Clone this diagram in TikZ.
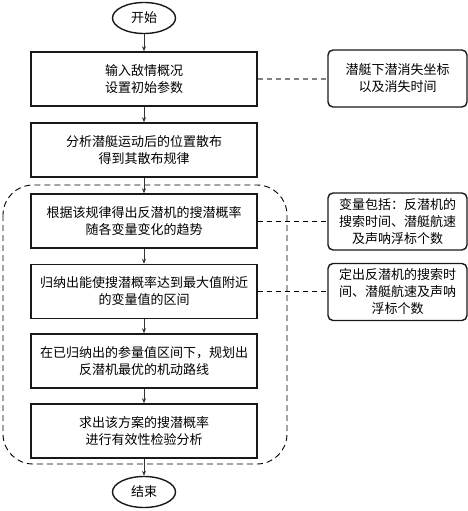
\documentclass[tikz,border=0pt]{standalone}
\usepackage{fontspec}
\setmainfont{Noto Sans CJK SC}
\usetikzlibrary{arrows.meta,shapes.geometric}
\tikzset{
  stepbox/.style={draw=black!90, line width=1.5pt, minimum width=226pt, minimum height=54pt, align=center, inner sep=0pt, font=\fontsize{13pt}{17pt}\selectfont},
  notebox/.style={draw=black!90, line width=1.4pt, rounded corners=5pt, minimum width=139pt, minimum height=57pt, align=center, inner sep=0pt, font=\fontsize{13pt}{17pt}\selectfont},
  term/.style={draw=black!90, line width=1.4pt, ellipse, minimum width=63pt, minimum height=31pt, inner sep=0pt, font=\fontsize{13pt}{17pt}\selectfont},
  flow/.style={draw=black!80, line width=0.8pt, -{Stealth[length=5pt,width=4pt]}},
  link/.style={draw=black, line width=0.9pt, dash pattern=on 5pt off 4pt},
  graylink/.style={draw=black!50, line width=1.1pt, dash pattern=on 5pt off 4pt},
  group/.style={draw=black, line width=0.9pt, dash pattern=on 6pt off 4pt, rounded corners=30pt}
}
\begin{document}
\begin{tikzpicture}[x=1pt,y=1pt]
\useasboundingbox (0,0) rectangle (468,-511);
\draw[group] (3,-185) rectangle (287,-464);
\node[term] (start) at (144,-18) {开始};
\node[stepbox] (b1) at (144,-79) {输入敌情概况\\设置初始参数};
\node[stepbox] (b2) at (144,-150) {分析潜艇运动后的位置散布\\得到其散布规律};
\node[stepbox] (b3) at (144,-221) {根据该规律得出反潜机的搜潜概率\\随各变量变化的趋势};
\node[stepbox] (b4) at (144,-291.5) {归纳出能使搜潜概率达到最大值附近\\的变量值的区间};
\node[stepbox] (b5) at (144,-361) {在已归纳出的参量值区间下，规划出\\反潜机最优的机动路线};
\node[stepbox] (b6) at (144,-431) {求出该方案的搜潜概率\\进行有效性检验分析};
\node[term] (end) at (144,-492) {结束};
\node[notebox] (r1) at (397.5,-78.5) {潜艇下潜消失坐标\\以及消失时间};
\node[notebox] (r2) at (397.5,-221.5) {变量包括：反潜机的\\搜索时间、潜艇航速\\及声呐浮标个数};
\node[notebox] (r3) at (397.5,-292) {定出反潜机的搜索时\\间、潜艇航速及声呐\\浮标个数};
\draw[flow] (start) -- (b1);
\draw[flow] (b1) -- (b2);
\draw[flow] (b2) -- (b3);
\draw[flow] (b3) -- (b4);
\draw[flow] (b4) -- (b5);
\draw[flow] (b5) -- (b6);
\draw[flow] (b6) -- (end);
\draw[graylink] (b1.east) -- (r1.west |- b1.east);
\draw[link] (b3.east) -- (r2.west |- b3.east);
\draw[link] (b4.east) -- (r3.west |- b4.east);
\end{tikzpicture}
\end{document}
